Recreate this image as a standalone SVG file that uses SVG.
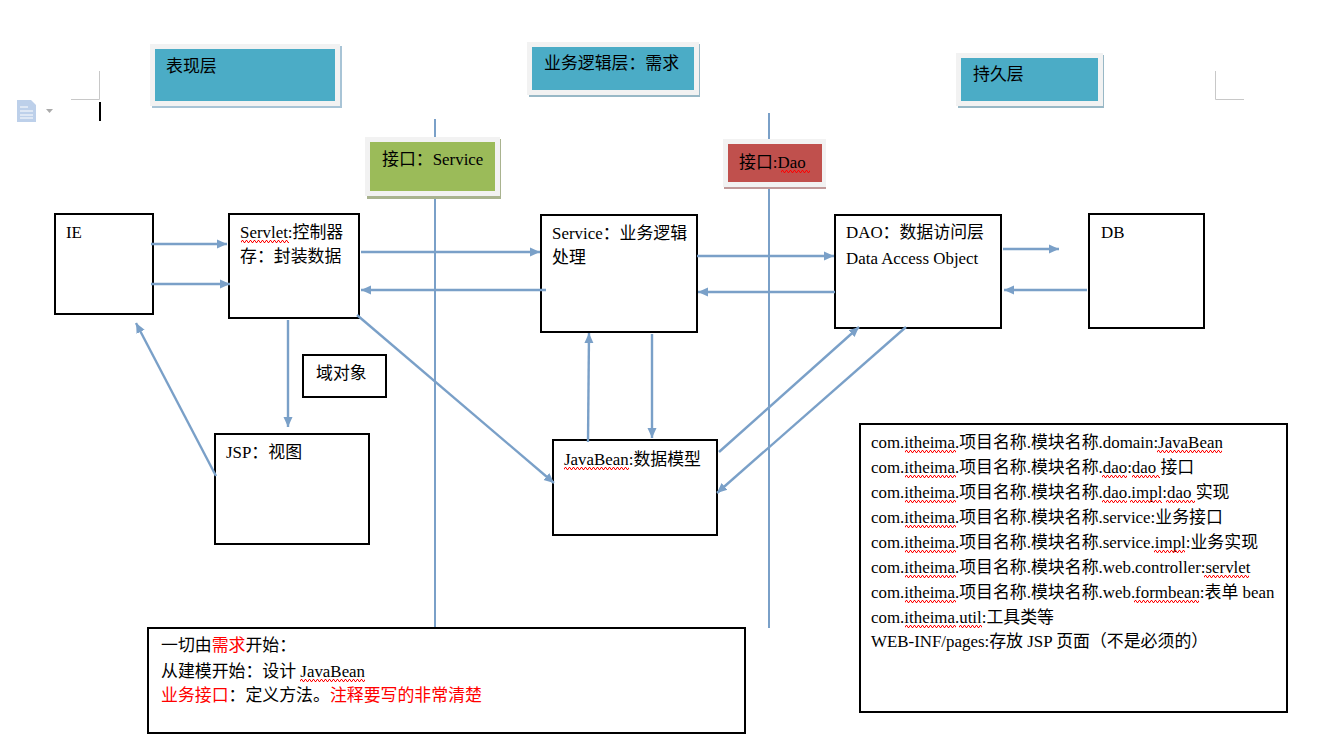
<svg xmlns="http://www.w3.org/2000/svg" width="1326" height="754" viewBox="0 0 1326 754">
<style>
text{font-family:"Liberation Serif","Noto Sans CJK SC",serif;font-size:16.9px;fill:#000}
.box{fill:#fff;stroke:#000;stroke-width:2}
.frame{fill:#f2f2f2}
.conn{fill:none;stroke:#7aa0c8;stroke-width:2.4;marker-end:url(#arrow)}
.axis{fill:none;stroke:#7aa0c8;stroke-width:2}
.sq{fill:url(#wave)}
.red{fill:#f00}
.crop{fill:none;stroke:#c8c8c8;stroke-width:1}
</style>
<defs>
<marker id="arrow" markerUnits="userSpaceOnUse" markerWidth="11" markerHeight="11" refX="10" refY="5.5" orient="auto"><path d="M0 1L10 5.5L0 10z" fill="#7aa0c8"/></marker>
<pattern id="wave" patternUnits="userSpaceOnUse" width="4" height="3"><path d="M0 2.5L1 0.5L2 0.5L3 2.5L4 2.5" fill="none" stroke="#f00" stroke-width="1"/></pattern>
</defs>
<rect width="1326" height="754" fill="#fff"/>
<g id="page-marks">
<path class="crop" d="M99.5 71V99.5H71M1215.5 71V99.5H1244"/>
<rect x="99" y="102" width="2" height="19" fill="#000"/>
<path d="M17 100H31L36 105V122H17z" fill="#bdd0ea"/>
<path d="M20 107H28M20 111H33M20 115H33M20 118H33" stroke="#fff" stroke-width="1"/>
<path d="M46 109H53L49.5 113z" fill="#aaa"/>
</g>
<g id="axes">
<path class="axis" d="M435 119V627"/>
<path class="axis" d="M769 113V628"/>
</g>
<g id="layer-view">
<rect x="152" y="46" width="190" height="62" fill="#a8c4d6"/><rect class="frame" x="150" y="44" width="190" height="62"/><rect x="155" y="49" width="180" height="52" fill="#4bacc6"/>
<text x="166" y="72">表现层</text>
</g>
<g id="layer-business">
<rect x="529" y="44" width="171" height="53" fill="#98b8c6"/><rect class="frame" x="527" y="42" width="172" height="53"/><rect x="532" y="47" width="162" height="43" fill="#4bacc6"/>
<text x="544" y="69">业务逻辑层&#xFF1A;需求</text>
</g>
<g id="layer-persist">
<rect x="958" y="55" width="146" height="53" fill="#98b8c6"/><rect class="frame" x="956" y="53" width="147" height="53"/><rect x="961" y="58" width="137" height="43" fill="#4bacc6"/>
<text x="973" y="80">持久层</text>
</g>
<g id="iface-service">
<rect x="367" y="139" width="134" height="60" fill="#a9b38f"/><rect class="frame" x="365" y="137" width="135" height="59"/><rect x="370" y="142" width="125" height="49" fill="#9bbb59"/>
<text x="382" y="165">接口&#xFF1A;Service</text>
</g>
<g id="iface-dao">
<rect x="724" y="141" width="102" height="48" fill="#c09a9a"/><rect class="frame" x="723" y="139" width="103" height="48"/><rect x="728" y="144" width="94" height="38" fill="#c0504d"/>
<text x="739" y="168">接口:Dao</text>
<rect class="sq" transform="translate(781,170)" width="29" height="3"/>
</g>
<g id="node-ie">
<rect class="box" x="55" y="214" width="98" height="100"/>
<text x="66" y="238">IE</text>
</g>
<g id="node-servlet">
<rect class="box" x="229" y="214" width="130" height="104"/>
<text x="240" y="238">Servlet:控制器</text>
<text x="240" y="262">存&#xFF1A;封装数据</text>
<rect class="sq" transform="translate(241,240)" width="48" height="3"/>
</g>
<g id="node-domain">
<rect class="box" x="303" y="355" width="83" height="42"/>
<text x="316" y="379">域对象</text>
</g>
<g id="node-jsp">
<rect class="box" x="215" y="434" width="154" height="110"/>
<text x="226" y="458">JSP&#xFF1A;视图</text>
</g>
<g id="node-service">
<rect class="box" x="541" y="215" width="156" height="117"/>
<text x="552" y="239">Service&#xFF1A;业务逻辑</text>
<text x="552" y="263">处理</text>
</g>
<g id="node-dao">
<rect class="box" x="835" y="215" width="166" height="113"/>
<text x="846" y="238">DAO&#xFF1A;数据访问层</text>
<text x="846" y="264">Data Access Object</text>
</g>
<g id="node-db">
<rect class="box" x="1089" y="214" width="115" height="114"/>
<text x="1101" y="238">DB</text>
</g>
<g id="node-javabean">
<rect class="box" x="553" y="440" width="164" height="95"/>
<text x="564" y="465">JavaBean:数据模型</text>
<rect class="sq" transform="translate(564,467)" width="65" height="3"/>
</g>
<g id="note-packages">
<rect class="box" x="860" y="424" width="427" height="288"/>
<text x="871" y="448">com.itheima.项目名称.模块名称.domain:JavaBean</text>
<text x="871" y="473">com.itheima.项目名称.模块名称.dao:dao 接口</text>
<text x="871" y="498">com.itheima.项目名称.模块名称.dao.impl:dao 实现</text>
<text x="871" y="523">com.itheima.项目名称.模块名称.service:业务接口</text>
<text x="871" y="548">com.itheima.项目名称.模块名称.service.impl:业务实现</text>
<text x="871" y="573">com.itheima.项目名称.模块名称.web.controller:servlet</text>
<text x="871" y="598">com.itheima.项目名称.模块名称.web.formbean:表单 bean</text>
<text x="871" y="623">com.itheima.util:工具类等</text>
<text x="871" y="647">WEB-INF/pages:存放 JSP 页面&#xFF08;不是必须的&#xFF09;</text>
<rect class="sq" transform="translate(905,450)" width="51" height="3"/>
<rect class="sq" transform="translate(1157,450)" width="65" height="3"/>
<rect class="sq" transform="translate(905,475)" width="51" height="3"/>
<rect class="sq" transform="translate(1102,475)" width="25" height="3"/>
<rect class="sq" transform="translate(1132,475)" width="28" height="3"/>
<rect class="sq" transform="translate(905,500)" width="51" height="3"/>
<rect class="sq" transform="translate(1102,500)" width="25" height="3"/>
<rect class="sq" transform="translate(1130,500)" width="32" height="3"/>
<rect class="sq" transform="translate(1166,500)" width="29" height="3"/>
<rect class="sq" transform="translate(905,525)" width="51" height="3"/>
<rect class="sq" transform="translate(905,550)" width="51" height="3"/>
<rect class="sq" transform="translate(1154,550)" width="31" height="3"/>
<rect class="sq" transform="translate(905,575)" width="51" height="3"/>
<rect class="sq" transform="translate(1204,575)" width="45" height="3"/>
<rect class="sq" transform="translate(905,600)" width="51" height="3"/>
<rect class="sq" transform="translate(1134,600)" width="65" height="3"/>
<rect class="sq" transform="translate(905,625)" width="51" height="3"/>
<rect class="sq" transform="translate(959,625)" width="23" height="3"/>
</g>
<g id="note-start">
<rect class="box" x="148" y="628" width="597" height="105"/>
<text x="161" y="651">一切由<tspan class="red">需求</tspan>开始&#xFF1A;</text>
<text x="161" y="677">从建模开始&#xFF1A;设计 JavaBean</text>
<text x="161" y="701"><tspan class="red">业务接口</tspan>&#xFF1A;定义方法。<tspan class="red">注释要写的非常清楚</tspan></text>
<rect class="sq" transform="translate(300,679)" width="65" height="3"/>
</g>
<g id="connectors">
<path class="conn" d="M151 244H227"/>
<path class="conn" d="M151 284H230"/>
<path class="conn" d="M361 252H540"/>
<path class="conn" d="M546 290H361"/>
<path class="conn" d="M697 256H834"/>
<path class="conn" d="M835 292H698"/>
<path class="conn" d="M1003 249H1059"/>
<path class="conn" d="M1087 290H1004"/>
<path class="conn" d="M288 320V427"/>
<path class="conn" d="M216 476L136 323"/>
<path class="conn" d="M357 315L554 483"/>
<path class="conn" d="M588 442L589 333"/>
<path class="conn" d="M652 334V438"/>
<path class="conn" d="M719 452L859 327"/>
<path class="conn" d="M906 327L717 493"/>
</g>
</svg>
